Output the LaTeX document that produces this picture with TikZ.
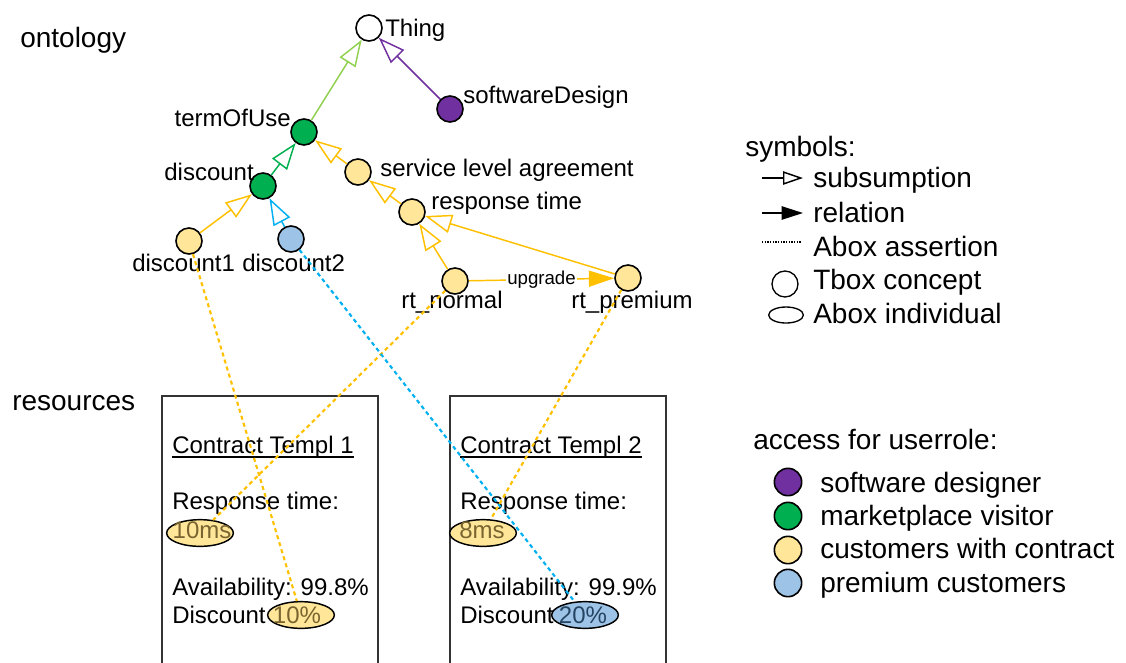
\documentclass[tikz,border=0pt]{standalone}
\usepackage{fontspec}
\setmainfont{Liberation Sans}
\usetikzlibrary{arrows.meta,shapes.geometric}
\definecolor{cpurple}{HTML}{7030A0}
\definecolor{cgreen}{HTML}{00B050}
\definecolor{clgreen}{HTML}{92D050}
\definecolor{cyellow}{HTML}{FFE699}
\definecolor{cblue}{HTML}{9DC3E6}
\definecolor{corange}{HTML}{FFC000}
\definecolor{ccyan}{HTML}{00B0F0}
\definecolor{cbox}{HTML}{333333}
\definecolor{ctxty}{HTML}{7A6530}
\definecolor{ctxtb}{HTML}{264563}
\begin{document}
\begin{tikzpicture}[x=0.75pt,y=-0.75pt,
  concept/.style={circle,draw=black,line width=1.2pt,minimum size=19.5pt,inner sep=0pt},
  indiv/.style={ellipse,draw=black,line width=1.1pt,minimum width=50pt,minimum height=20pt,inner sep=0pt},
  lbl/.style={font=\fontsize{18}{21}\selectfont,inner sep=0pt},
  big/.style={font=\fontsize{21}{25}\selectfont,inner sep=0pt},
  small/.style={font=\fontsize{14}{17}\selectfont,inner sep=1pt},
  sub/.style={line width=1.1pt,-{Triangle[open,length=20pt,width=14pt]}},
  legsub/.style={line width=1.1pt,-{Triangle[open,length=15pt,width=10pt]}},
  rel/.style={line width=1.1pt,-{Triangle[length=19pt,width=12pt]}},
  adash/.style={line width=1.6pt,dash pattern=on 3pt off 2.5pt},
  boxline/.style={draw=cbox,line width=1.1pt}]
\useasboundingbox (0,0) rectangle (1126,662);

% section titles
\node[big,anchor=base west] (ontology) at (20,47) {ontology};
\node[big,anchor=base west] (resources) at (12,410) {resources};

% ontology concepts
\node[concept,fill=white] (thing) at (369,28) {};
\node[concept,fill=cpurple] (sd) at (450,109) {};
\node[concept,fill=cgreen] (tou) at (304,132) {};
\node[concept,fill=cgreen] (disc) at (263,186) {};
\node[concept,fill=cyellow] (sla) at (358,172) {};
\node[concept,fill=cyellow] (rt) at (412,212) {};
\node[concept,fill=cyellow] (d1) at (189,241) {};
\node[concept,fill=cblue] (d2) at (291,239) {};
\node[concept,fill=cyellow] (rtn) at (455,281) {};
\node[concept,fill=cyellow] (rtp) at (628,278) {};

% labels
\node[lbl,anchor=base west] (thingl) at (385,36) {Thing};
\node[lbl,anchor=base west] (sdl) at (463,103) {softwareDesign};
\node[lbl,anchor=base east] (toul) at (291,126) {termOfUse};
\node[lbl,anchor=base east] (discl) at (254,180) {discount};
\node[lbl,anchor=base west] (slal) at (380,176) {service level agreement};
\node[lbl,anchor=base west] (rtl) at (431,209) {response time};
\node[lbl,anchor=base west] (d1l) at (132,271) {discount1};
\node[lbl,anchor=base west] (d2l) at (242,271) {discount2};
\node[lbl,anchor=base west] (rtnl) at (401,308) {rt\_normal};
\node[lbl,anchor=base west] (rtpl) at (571,308) {rt\_premium};

% subsumption edges
\draw[sub,clgreen] (tou) -- (thing);
\draw[sub,cpurple] (sd) -- (thing);
\draw[sub,cgreen] (disc) -- (tou);
\draw[sub,corange] (sla) -- (tou);
\draw[sub,corange] (d1) -- (disc);
\draw[sub,ccyan] (d2) -- (disc);
\draw[sub,corange] (rt) -- (sla);
\draw[sub,corange] (rtn) -- (rt);
\draw[sub,corange] (rtp) -- (rt);
\draw[rel,corange] (rtn) -- node[small,fill=white,text=black] (upl) {upgrade} (rtp);

% resource boxes
\coordinate (b1bl) at (162,665);
\coordinate (b1tl) at (162,396);
\coordinate (b1tr) at (378,396);
\coordinate (b1br) at (378,665);
\draw[boxline] (b1bl) -- (b1tl) -- (b1tr) -- (b1br);
\coordinate (b2bl) at (450,665);
\coordinate (b2tl) at (450,396);
\coordinate (b2tr) at (666,396);
\coordinate (b2br) at (666,665);
\draw[boxline] (b2bl) -- (b2tl) -- (b2tr) -- (b2br);

\node[lbl,anchor=base west] (c1t) at (172,453) {Contract Templ 1};
\draw[line width=0.9pt] ([yshift=-3pt]c1t.base west) -- ([yshift=-3pt]c1t.base east);
\node[lbl,anchor=base west] (c1r) at (172,509) {Response time:};
\node[lbl,anchor=base west] (c1a) at (172,595) {Availability: 99.8\%};
\node[lbl,anchor=base west] (c1d) at (172,623) {Discount};
\node[indiv,fill=cyellow] (e10ms) at (200,533) {};
\node[lbl,anchor=base,text=ctxty] (t10ms) at (202,538) {10ms};
\node[indiv,fill=cyellow] (e10) at (301,615) {};
\node[lbl,anchor=base,text=ctxty] (t10) at (297,623) {10\%};

\node[lbl,anchor=base west] (c2t) at (460,453) {Contract Templ 2};
\draw[line width=0.9pt] ([yshift=-3pt]c2t.base west) -- ([yshift=-3pt]c2t.base east);
\node[lbl,anchor=base west] (c2r) at (460,509) {Response time:};
\node[lbl,anchor=base west] (c2a) at (460,595) {Availability: 99.9\%};
\node[lbl,anchor=base west] (c2d) at (460,623) {Discount};
\node[indiv,fill=cyellow] (e8ms) at (483,533) {};
\node[lbl,anchor=base,text=ctxty] (t8ms) at (482,538) {8ms};
\node[indiv,fill=cblue] (e20) at (585,615) {};
\node[lbl,anchor=base,text=ctxtb] (t20) at (583,623) {20\%};

% abox assertions
\draw[adash,corange] (d1) -- (e10);
\draw[adash,corange] (rtn) -- (e10ms);
\draw[adash,ccyan] (d2) -- (e20);
\draw[adash,corange] (rtp) -- (e8ms);

% legend: symbols
\node[big,anchor=base west] (symt) at (745,156) {symbols:};
\coordinate (s1a) at (762,178);
\coordinate (s1b) at (803,178);
\draw[legsub,black] (s1a) -- (s1b);
\node[big,anchor=base west] (s1t) at (813,187) {subsumption};
\coordinate (s2a) at (762,213);
\coordinate (s2b) at (803,213);
\draw[line width=1.1pt,-{Triangle[length=16pt,width=10pt]}] (s2a) -- (s2b);
\node[big,anchor=base west] (s2t) at (813,222) {relation};
\coordinate (s3a) at (762,242);
\coordinate (s3b) at (801,242);
\draw[line width=0.8pt,dash pattern=on 1pt off 1pt] (s3a) -- (s3b);
\node[big,anchor=base west] (s3t) at (813,256) {Abox assertion};
\node[concept,fill=white,line width=1pt] (s4c) at (785,284) {};
\node[big,anchor=base west] (s4t) at (813,289) {Tbox concept};
\node[ellipse,draw=black,line width=1pt,minimum width=26pt,minimum height=12pt,inner sep=0pt] (s5e) at (786,315) {};
\node[big,anchor=base west] (s5t) at (813,323) {Abox individual};

% legend: access
\node[big,anchor=base west] (acct) at (753,449) {access for userrole:};
\node[concept,fill=cpurple,minimum size=20.5pt] (a1c) at (788,482) {};
\node[big,anchor=base west] (a1t) at (820,492) {software designer};
\node[concept,fill=cgreen,minimum size=20.5pt] (a2c) at (788,516) {};
\node[big,anchor=base west] (a2t) at (820,525) {marketplace visitor};
\node[concept,fill=cyellow,minimum size=20.5pt] (a3c) at (788,550) {};
\node[big,anchor=base west] (a3t) at (820,558) {customers with contract};
\node[concept,fill=cblue,minimum size=20.5pt] (a4c) at (788,583) {};
\node[big,anchor=base west] (a4t) at (820,592) {premium customers};
\end{tikzpicture}
\end{document}
